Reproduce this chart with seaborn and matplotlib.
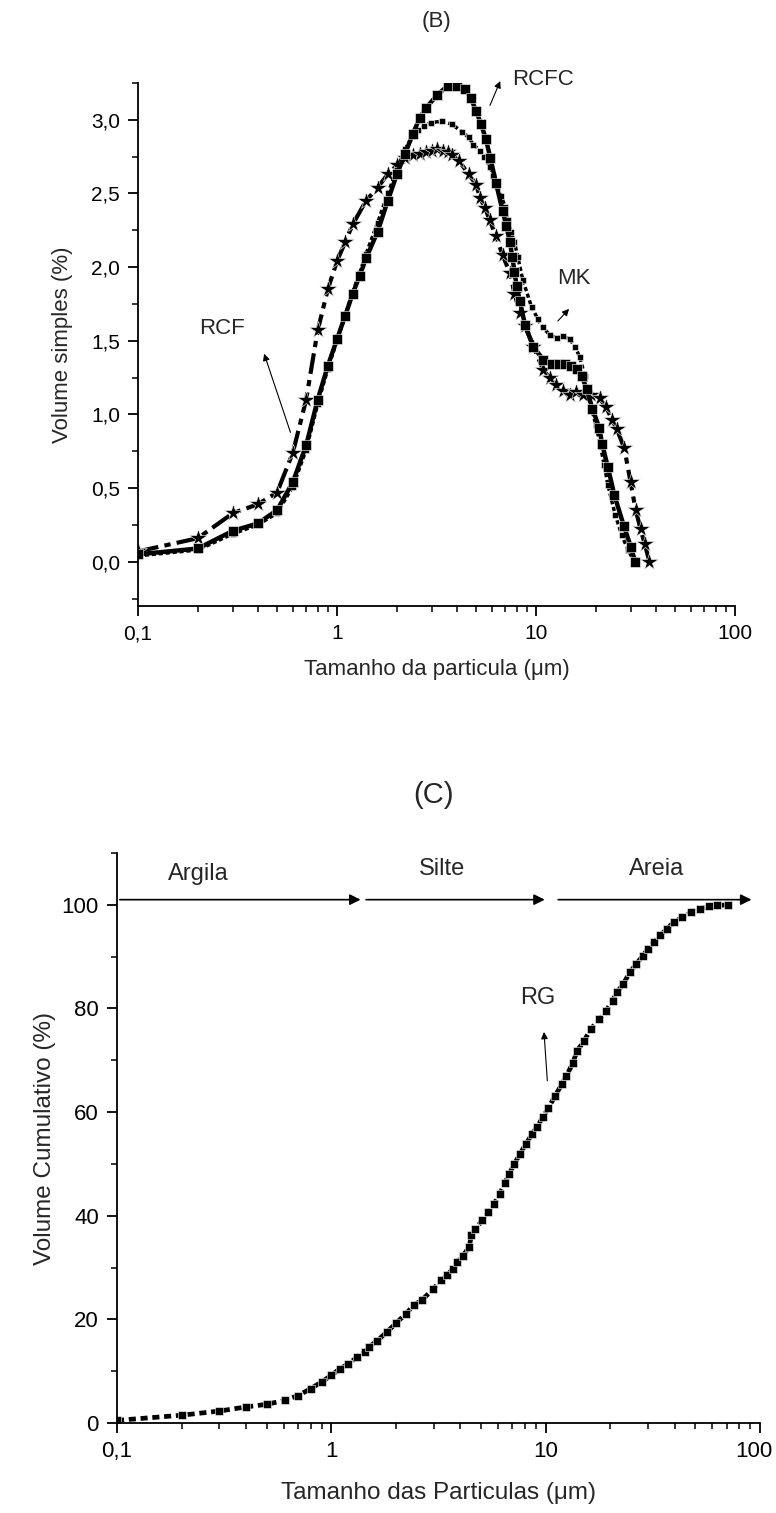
import numpy as np
import pandas as pd
import matplotlib
matplotlib.use("Agg")
import matplotlib.pyplot as plt
import matplotlib.ticker as mticker
import matplotlib.transforms as mtransforms
import seaborn as sns

# ---------------- data: panel (B) frequency curves ----------------
rcfc_x = [0.1, 0.2, 0.3, 0.4, 0.5, 0.6, 0.7, 0.8, 0.9, 1.0, 1.1, 1.2, 1.3, 1.4, 1.6, 1.8, 2.0, 2.2,
          2.4, 2.6, 2.8, 3.2, 3.6, 4.0, 4.4, 4.7, 5.0, 5.3, 5.6, 5.9, 6.3, 6.8, 7.1, 7.4, 7.6, 7.8,
          8.0, 8.3, 8.8, 9.7, 10.9, 12.0, 13.0, 14.0, 15.0, 16.0, 17.0, 18.0, 19.2, 20.8, 21.5,
          23.0, 24.8, 27.7, 30.0, 31.5]
rcfc_y = [0.05, 0.09, 0.21, 0.26, 0.35, 0.54, 0.79, 1.10, 1.33, 1.51, 1.67, 1.82, 1.94, 2.06, 2.24,
          2.45, 2.63, 2.77, 2.90, 3.01, 3.08, 3.17, 3.23, 3.23, 3.21, 3.15, 3.06, 2.97, 2.87, 2.74,
          2.57, 2.38, 2.28, 2.17, 2.07, 1.97, 1.87, 1.77, 1.61, 1.46, 1.37, 1.34, 1.34, 1.34, 1.33,
          1.31, 1.26, 1.17, 1.04, 0.91, 0.80, 0.64, 0.45, 0.24, 0.10, 0.0]

mk_x = [0.1, 0.2, 0.3, 0.4, 0.5, 0.6, 0.7, 0.8, 0.9, 1.0, 1.1, 1.2, 1.3, 1.4, 1.6, 1.8, 2.0, 2.2,
        2.4, 2.56, 2.75, 2.96, 3.36, 3.77, 4.24, 4.6, 4.85, 5.24, 5.5, 5.88, 6.1, 6.4, 6.7, 7.0,
        7.2, 7.5, 7.8, 8.1, 8.6, 9.5, 10.2, 10.8, 11.75, 12.7, 13.7, 14.8, 15.7, 16.6, 17.6, 18.2,
        19.1, 20.0, 21.0, 22.0, 23.0, 25.0, 27.0, 29.0, 31.0]
mk_y = [0.04, 0.08, 0.19, 0.25, 0.33, 0.51, 0.76, 1.07, 1.31, 1.50, 1.67, 1.83, 1.96, 2.09, 2.30,
        2.50, 2.66, 2.80, 2.89, 2.93, 2.96, 2.98, 2.99, 2.97, 2.92, 2.88, 2.83, 2.79, 2.75, 2.68,
        2.62, 2.55, 2.48, 2.41, 2.32, 2.24, 2.17, 2.07, 1.91, 1.73, 1.65, 1.59, 1.54, 1.52, 1.53,
        1.51, 1.46, 1.39, 1.26, 1.15, 1.03, 0.93, 0.80, 0.66, 0.52, 0.32, 0.18, 0.08, 0.01]

rcf_x = [0.1, 0.2, 0.3, 0.4, 0.5, 0.6, 0.7, 0.8, 0.9, 1.0, 1.1, 1.2, 1.4, 1.6, 1.8, 2.0, 2.2, 2.4,
         2.6, 2.8, 3.0, 3.2, 3.4, 3.6, 3.8, 4.1, 4.6, 5.0, 5.24, 5.55, 5.85, 6.3, 6.8, 7.4, 7.8, 8.3,
         8.8, 9.7, 10.9, 11.7, 12.6, 13.7, 14.8, 15.9, 17.3, 18.9, 20.9, 22.5, 24.2, 25.5, 27.8,
         29.9, 31.7, 33.6, 35.2, 37.2]
rcf_y = [0.07, 0.16, 0.33, 0.39, 0.47, 0.74, 1.10, 1.57, 1.85, 2.04, 2.17, 2.29, 2.45, 2.54, 2.63,
         2.69, 2.74, 2.76, 2.77, 2.78, 2.79, 2.80, 2.79, 2.78, 2.76, 2.72, 2.63, 2.56, 2.47, 2.40,
         2.32, 2.21, 2.08, 1.96, 1.82, 1.69, 1.60, 1.46, 1.30, 1.25, 1.20, 1.16, 1.13, 1.15, 1.13,
         1.13, 1.11, 1.05, 0.96, 0.90, 0.77, 0.54, 0.35, 0.22, 0.12, 0.0]

# ---------------- data: panel (C) cumulative curve ----------------
rg_x = [0.1, 0.2, 0.3, 0.4, 0.5, 0.61, 0.7, 0.8, 0.9, 1.0, 1.1, 1.2, 1.32, 1.43, 1.5, 1.64, 1.82,
        2.01, 2.23, 2.42, 2.66, 2.99, 3.25, 3.47, 3.69, 3.86, 4.1, 4.4, 4.5, 4.7, 5.06, 5.4, 5.74,
        6.1, 6.45, 6.76, 7.15, 7.6, 8.1, 8.65, 9.1, 9.7, 10.3, 11.05, 11.9, 12.5, 13.4, 14.0, 15.1,
        16.2, 17.8, 19.1, 20.5, 21.5, 23.0, 24.7, 26.5, 28.4, 30.1, 31.9, 34.3, 36.8, 39.5, 43.4,
        47.7, 52.4, 57.5, 63.2, 70.9]
rg_y = [0.5, 1.5, 2.3, 3.1, 3.6, 4.4, 5.3, 6.6, 7.9, 9.2, 10.5, 11.4, 12.7, 13.7, 14.7, 15.9, 17.6,
        19.3, 21.1, 22.7, 23.8, 25.9, 27.5, 28.5, 29.8, 31.1, 32.2, 34.0, 36.2, 37.5, 39.1, 40.7,
        42.3, 44.2, 46.3, 48.1, 50.0, 52.0, 53.9, 55.8, 57.1, 59.0, 60.8, 63.1, 65.4, 67.0, 69.5,
        71.8, 73.7, 76.0, 77.9, 79.5, 81.5, 83.1, 84.7, 87.0, 88.6, 90.2, 91.5, 92.8, 94.1, 95.4,
        96.6, 97.6, 98.6, 99.2, 99.7, 99.9, 100.0]

x_tick_vals = [0.1, 1, 10, 100]
x_tick_labels = ["0,1", "1", "10", "100"]
yB_tick_vals = [0.0, 0.5, 1.0, 1.5, 2.0, 2.5, 3.0]
yB_tick_labels = ["0,0", "0,5", "1,0", "1,5", "2,0", "2,5", "3,0"]
yC_tick_vals = [0, 20, 40, 60, 80, 100]
yC_tick_labels = ["0", "20", "40", "60", "80", "100"]

sns.set_theme(style="ticks")
reg = ["Liberation Sans", "DejaVu Sans"]
plt.rcParams["font.family"] = reg

fig = plt.figure(figsize=(7.76, 15.13), dpi=100)
axB = fig.add_axes([0.1778, 0.5995, 0.7693, 0.3457])
axC = fig.add_axes([0.1508, 0.0595, 0.8286, 0.3767])

df_rcfc = pd.DataFrame({"x": rcfc_x, "y": rcfc_y})
df_mk = pd.DataFrame({"x": mk_x, "y": mk_y})
df_rcf = pd.DataFrame({"x": rcf_x, "y": rcf_y})
df_rg = pd.DataFrame({"x": rg_x, "y": rg_y})

common = dict(estimator=None, sort=False, color="black", markeredgecolor="white",
              markeredgewidth=0.4)
sns.lineplot(data=df_rcf, x="x", y="y", ax=axB, marker="*", markersize=13,
             linewidth=3.0, linestyle=(0, (5, 1.5, 1.5, 1.5)), **common)
sns.lineplot(data=df_mk, x="x", y="y", ax=axB, marker="s", markersize=4.2,
             linewidth=2.5, linestyle=(0, (1.2, 0.8)), **common)
sns.lineplot(data=df_rcfc, x="x", y="y", ax=axB, marker="s", markersize=7,
             linewidth=3.2, linestyle="-", **common)

sns.lineplot(data=df_rg, x="x", y="y", ax=axC, marker="s", markersize=5.8,
             linewidth=3.4, linestyle=(0, (1.5, 1)), **common)


def style_axis(ax, tsize):
    ax.set_xscale("log")
    ax.set_xlim(0.1, 100)
    ax.xaxis.set_major_locator(mticker.FixedLocator(x_tick_vals))
    ax.xaxis.set_major_formatter(mticker.FixedFormatter(x_tick_labels))
    ax.xaxis.set_minor_locator(mticker.LogLocator(base=10, subs=np.arange(2, 10) * 1.0, numticks=20))
    ax.xaxis.set_minor_formatter(mticker.NullFormatter())
    for s in ["top", "right"]:
        ax.spines[s].set_visible(False)
    for s in ["left", "bottom"]:
        ax.spines[s].set_linewidth(1.3)
        ax.spines[s].set_color("black")
    ax.tick_params(which="major", direction="out", length=7, width=1.3, colors="black",
                   labelsize=tsize, pad=6)
    ax.tick_params(which="minor", direction="out", length=4, width=1.1, colors="black")
    ax.grid(False)


# panel B
axB.set_ylim(-0.3, 3.25)
axB.yaxis.set_major_locator(mticker.FixedLocator(yB_tick_vals))
axB.yaxis.set_major_formatter(mticker.FixedFormatter(yB_tick_labels))
axB.yaxis.set_minor_locator(mticker.MultipleLocator(0.25))
style_axis(axB, 15)
axB.set_xlabel("Tamanho da particula (\u03bcm)", fontsize=16)
axB.set_ylabel("Volume simples (%)", fontsize=16)
axB.xaxis.set_label_coords(0.5, -0.122)
axB.xaxis.label.set_va("center")
axB.yaxis.set_label_coords(-0.127, 0.5)
axB.yaxis.label.set_va("center")
fig.text(0.5622, 0.986, "(B)", ha="center", va="center", fontsize=16)

ann = dict(arrowprops=dict(arrowstyle="-|>", color="black", lw=0.8, mutation_scale=10))
axB.text(10.8, 3.27, "RCFC", fontsize=16, ha="center", va="center", clip_on=False)
axB.annotate("", xy=(6.7, 3.28), xytext=(5.8, 3.08), annotation_clip=False, **ann)
axB.text(15.5, 1.92, "MK", fontsize=16, ha="center", va="center")
axB.annotate("", xy=(15.0, 1.73), xytext=(12.6, 1.62), **ann)
axB.text(0.264, 1.58, "RCF", fontsize=16, ha="center", va="center")
axB.annotate("", xy=(0.426, 1.43), xytext=(0.59, 0.86), **ann)

# panel C
axC.set_ylim(0, 110)
axC.yaxis.set_major_locator(mticker.FixedLocator(yC_tick_vals))
axC.yaxis.set_major_formatter(mticker.FixedFormatter(yC_tick_labels))
axC.yaxis.set_minor_locator(mticker.MultipleLocator(10))
style_axis(axC, 16)
axC.set_xlabel("Tamanho das Particulas (\u03bcm)", fontsize=17.5)
axC.set_ylabel("Volume Cumulativo (%)", fontsize=17.5)
axC.xaxis.set_label_coords(0.5, -0.123)
axC.xaxis.label.set_va("center")
axC.yaxis.set_label_coords(-0.112, 0.5)
axC.yaxis.label.set_va("center")
fig.text(0.558, 0.4746, "(C)", ha="center", va="center", fontsize=21)
# keep the last x tick label inside the canvas
fig.canvas.draw()
last = axC.get_xticklabels()[-1]
last.set_transform(last.get_transform() + mtransforms.ScaledTranslation(-6 / 100, 0, fig.dpi_scale_trans))

arr = dict(arrowstyle="-|>", color="black", lw=1.2, mutation_scale=16)
axC.annotate("", xy=(1.41, 101), xytext=(0.1, 101), arrowprops=arr)
axC.annotate("", xy=(10.2, 101), xytext=(1.41, 101), arrowprops=arr)
axC.annotate("", xy=(94, 101), xytext=(11.1, 101), arrowprops=arr, annotation_clip=False)
axC.text(0.24, 106, "Argila", fontsize=17, ha="center", va="center")
axC.text(3.3, 107, "Silte", fontsize=17, ha="center", va="center")
axC.text(33, 107, "Areia", fontsize=17, ha="center", va="center")
axC.text(9.2, 82, "RG", fontsize=17, ha="center", va="center")
axC.annotate("", xy=(9.8, 76), xytext=(10.2, 65.5),
             arrowprops=dict(arrowstyle="-|>", color="black", lw=0.8, mutation_scale=10))

fig.savefig("out.png", dpi=100)
